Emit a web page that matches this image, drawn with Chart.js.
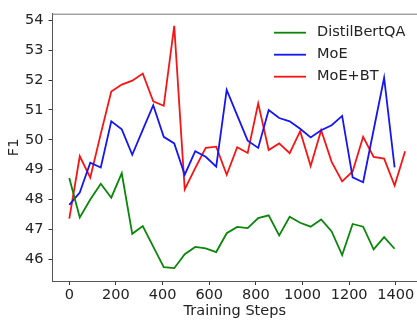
<!DOCTYPE html>
<html lang="en">

<head>
    <meta charset="UTF-8">
    <title>F1 vs Training Steps</title>
    <script src="https://cdn.jsdelivr.net/npm/chart.js@4.4.0/dist/chart.umd.min.js"></script>
    <style>
        html, body { margin: 0; padding: 0; background: #fff; overflow: hidden; }
    </style>
</head>

<body>
    <canvas id="f1Chart" width="417" height="320"></canvas>
    <script>
    // training steps (x) for each evaluation
    var steps = [0, 45, 90, 135, 180, 225, 270, 315, 360, 405, 450, 495, 540, 585, 630, 675,
        720, 765, 810, 855, 900, 945, 990, 1035, 1080, 1125, 1170, 1215, 1260, 1305, 1350, 1395, 1440];
    var xTicks = [0, 200, 400, 600, 800, 1000, 1200, 1400];
    var yTicks = [46, 47, 48, 49, 50, 51, 52, 53, 54];

    var distilBertQA = [48.72, 47.40, 48.00, 48.53, 48.06, 48.88, 46.85, 47.11, 46.42, 45.73, 45.70,
        46.17, 46.41, 46.36, 46.24, 46.87, 47.08, 47.04, 47.38, 47.47, 46.80, 47.42, 47.22, 47.09,
        47.33, 46.93, 46.14, 47.18, 47.09, 46.33, 46.74, 46.35];
    var moe = [47.82, 48.23, 49.23, 49.07, 50.62, 50.35, 49.50, 50.33, 51.16, 50.10, 49.88,
        48.83, 49.62, 49.43, 49.10, 51.67, 50.82, 49.97, 49.73, 51.00, 50.73, 50.62, 50.37, 50.08,
        50.32, 50.49, 50.80, 48.74, 48.58, 50.33, 52.08, 49.08];
    var moeBT = [47.36, 49.45, 48.73, 50.20, 51.62, 51.85, 51.98, 52.22, 51.29, 51.14, 53.82,
        48.34, 49.05, 49.73, 49.77, 48.83, 49.75, 49.56, 51.22, 49.66, 49.88, 49.55, 50.29, 49.12,
        50.32, 49.26, 48.61, 48.94, 50.10, 49.43, 49.37, 48.47, 49.62];

    function points(values) {
        return values.map(function (v, i) { return { x: steps[i], y: v }; });
    }

    var textColor = '#222';
    var font = { family: 'DejaVu Sans', size: 14.5 };

    // legend drawn inside the plot, top right, no frame
    var insideLegend = {
        id: 'insideLegend',
        afterDraw: function (chart) {
            var c = chart.ctx, area = chart.chartArea;
            c.save();
            // top spine
            c.strokeStyle = '#777';
            c.lineWidth = 1;
            c.beginPath();
            c.moveTo(area.left, area.top + 0.5);
            c.lineTo(area.right, area.top + 0.5);
            c.stroke();

            c.font = font.size + 'px ' + font.family;
            c.textBaseline = 'middle';
            c.fillStyle = textColor;
            chart.data.datasets.forEach(function (ds, i) {
                var y = area.top + 19 + i * 22;
                c.strokeStyle = ds.borderColor;
                c.lineWidth = 1.8;
                c.beginPath();
                c.moveTo(274, y);
                c.lineTo(306, y);
                c.stroke();
                c.fillText(ds.label, 317, y);
            });
            c.restore();
        }
    };

    var ctx = document.getElementById('f1Chart').getContext('2d');
    var chart = new Chart(ctx, {
        type: 'line',
        data: {
            datasets: [{
                label: 'DistilBertQA',
                borderColor: '#0a860a',
                data: points(distilBertQA),
            }, {
                label: 'MoE',
                borderColor: '#1515f5',
                data: points(moe),
            }, {
                label: 'MoE+BT',
                borderColor: '#f51515',
                data: points(moeBT),
            }]
        },
        options: {
            responsive: false,
            animation: false,
            devicePixelRatio: 1,
            layout: { padding: { top: 6, left: 0, right: 0, bottom: 0 } },
            elements: {
                point: { radius: 0 },
                line: { borderWidth: 1.8, tension: 0, fill: false }
            },
            plugins: {
                legend: { display: false },
                tooltip: { enabled: false }
            },
            scales: {
                x: {
                    type: 'linear',
                    min: -72,
                    max: 1491,
                    afterBuildTicks: function (s) { s.ticks = xTicks.map(function (v) { return { value: v }; }); },
                    afterFit: function (s) { s.height = 39; },
                    grid: { drawOnChartArea: false, tickLength: 4, color: '#333' },
                    border: { color: '#555' },
                    ticks: {
                        color: textColor, font: font, padding: 2, maxRotation: 0,
                        callback: function (v) { return String(v); }
                    },
                    title: { display: true, text: 'Training Steps', color: textColor, font: font, padding: { top: 0, bottom: 0 } }
                },
                y: {
                    min: 45.27,
                    max: 54.225,
                    afterBuildTicks: function (s) { s.ticks = yTicks.map(function (v) { return { value: v }; }); },
                    afterFit: function (s) { s.width = 52.5; },
                    grid: { drawOnChartArea: false, tickLength: 4, color: '#333' },
                    border: { color: '#555' },
                    ticks: {
                        color: textColor, font: font, padding: 5,
                        callback: function (v) { return String(v); }
                    },
                    title: { display: true, text: 'F1', color: textColor, font: font, padding: { top: 6, bottom: 0 } }
                }
            }
        },
        plugins: [insideLegend]
    });
    </script>
</body>

</html>
